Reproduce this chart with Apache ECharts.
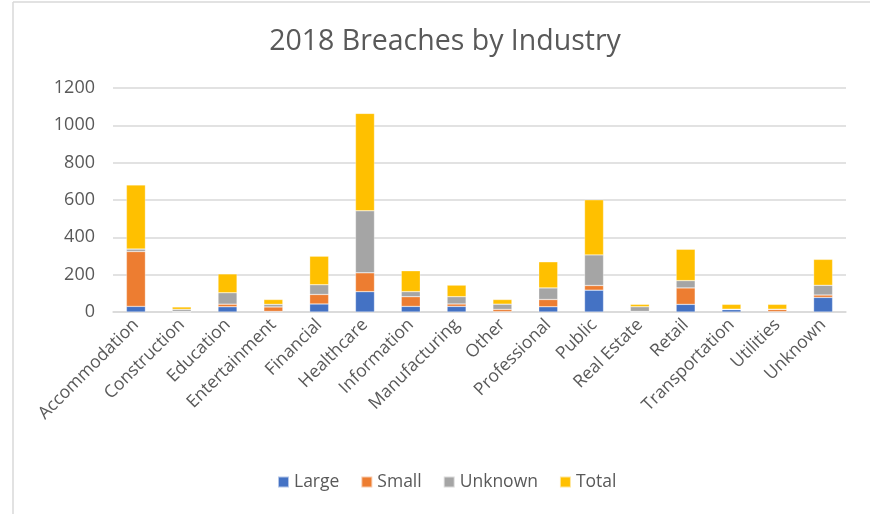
<!DOCTYPE html>
<html><head><meta charset="utf-8">
<script src="https://cdn.jsdelivr.net/npm/echarts@6/dist/echarts.min.js"></script>
<style>html,body{margin:0;padding:0;background:#fff}#c{width:870px;height:514px}</style>
</head><body><div id="c"></div>
<script>
const categories = ["Accommodation","Construction","Education","Entertainment","Financial","Healthcare","Information","Manufacturing","Other","Professional","Public","Real Estate","Retail","Transportation","Utilities","Unknown"];
const large   = [30, 1, 28, 3, 43, 109, 30, 30, 2, 28, 117, 1, 41, 13, 2, 78];
const small   = [294, 2, 14, 24, 51, 101, 52, 13, 12, 39, 25, 2, 88, 1, 12, 13];
const unknown = [13, 11, 61, 14, 52, 332, 27, 39, 28, 62, 164, 25, 39, 1, 1, 52];
const total   = [344, 13, 101, 26, 153, 522, 112, 62, 25, 140, 295, 13, 168, 26, 26, 139];
const yTicks = [0, 200, 400, 600, 800, 1000, 1200];

const FONT = "Open Sans";
const TXT = "#595959";
const chart = echarts.init(document.getElementById('c'));
function s(name, data, color){
  return {name, type:'bar', stack:'a', data, barWidth:19,
    itemStyle:{color, borderColor:'rgba(255,255,255,0.6)', borderWidth:0.5}};
}
chart.setOption({
  animation:false,
  textStyle:{fontFamily:FONT},
  title:{text:'2018 Breaches by Industry', left:440, top:22, textAlign:'center',
    textStyle:{fontFamily:FONT, fontSize:28.5, fontWeight:'normal', color:TXT}},
  grid:{left:113, right:24, top:88, bottom:202},
  legend:{bottom:18, left:272, itemWidth:11, itemHeight:11, itemGap:21,
    icon:'rect', textStyle:{fontFamily:FONT, fontSize:17.5, color:TXT}},
  xAxis:{type:'category', data:categories,
    axisLine:{lineStyle:{color:'#d9d9d9', width:1.5}}, axisTick:{show:false},
    axisLabel:{rotate:45, interval:0, fontFamily:FONT, fontSize:17.5, color:TXT, margin:10}},
  yAxis:{type:'value', min:yTicks[0], max:yTicks[yTicks.length-1], interval:200,
    axisLine:{show:false}, axisTick:{show:false},
    splitLine:{lineStyle:{color:'#d9d9d9', width:1.5}},
    axisLabel:{fontFamily:FONT, fontSize:18, color:TXT, margin:18, formatter:v => String(v)}},
  graphic:[
    {type:'line', shape:{x1:13, y1:2, x2:870, y2:2}, style:{stroke:'#d9d9d9', lineWidth:1.5}},
    {type:'line', shape:{x1:13, y1:2, x2:13, y2:514}, style:{stroke:'#d9d9d9', lineWidth:1.5}}
  ],
  series:[s('Large',large,'#4472C4'), s('Small',small,'#ED7D31'), s('Unknown',unknown,'#A5A5A5'), s('Total',total,'#FFC000')]
});
</script></body></html>
